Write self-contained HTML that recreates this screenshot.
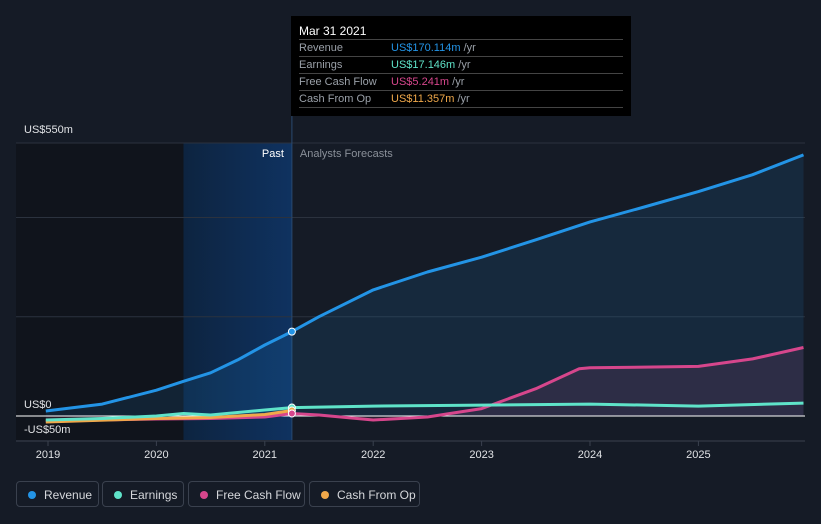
<!DOCTYPE html>
<html><head><meta charset="utf-8"><style>
body{margin:0;background:#151b26;font-family:"Liberation Sans",sans-serif;width:821px;height:524px;overflow:hidden;position:relative}
.lg{position:absolute;top:481px;height:26px;border:1px solid #3a414e;border-radius:4px;color:#d5d7db;font-size:12px;line-height:26px;box-sizing:border-box;padding-left:27px}
.lg i{position:absolute;left:11px;top:9px;width:8px;height:8px;border-radius:50%}
</style></head><body>
<svg id="c" width="821" height="524" style="position:absolute;left:0;top:0"></svg>
<div class="lg" style="left:16px;width:83px"><i style="background:#2394e6"></i>Revenue</div>
<div class="lg" style="left:102px;width:82px"><i style="background:#5fe3c9"></i>Earnings</div>
<div class="lg" style="left:188px;width:117px"><i style="background:#d6468c"></i>Free Cash Flow</div>
<div class="lg" style="left:309px;width:111px"><i style="background:#f0a84a"></i>Cash From Op</div>
<div style="position:absolute;left:291px;top:16px;width:340px;height:100px;background:#000">
<div style="position:absolute;left:8px;top:8px;color:#fff;font-size:12px">Mar 31 2021</div>
<div style="position:absolute;left:8px;right:8px;top:23px;font-size:11px;color:#9aa0a8;line-height:16px">
<div style="border-top:1px solid #444;position:relative">Revenue<span style="position:absolute;left:92px;color:#2394e6">US$170.114m <span style="color:#9aa0a8">/yr</span></span></div>
<div style="border-top:1px solid #444;position:relative">Earnings<span style="position:absolute;left:92px;color:#5fe3c9">US$17.146m <span style="color:#9aa0a8">/yr</span></span></div>
<div style="border-top:1px solid #444;position:relative">Free Cash Flow<span style="position:absolute;left:92px;color:#d6468c">US$5.241m <span style="color:#9aa0a8">/yr</span></span></div>
<div style="border-top:1px solid #444;border-bottom:1px solid #444;position:relative">Cash From Op<span style="position:absolute;left:92px;color:#f0a84a">US$11.357m <span style="color:#9aa0a8">/yr</span></span></div>
</div></div>
<script>
const revX=[2018.98,2019.5,2020,2020.25,2020.5,2020.75,2021,2021.25,2021.5,2022,2022.5,2023,2023.5,2024,2024.5,2025,2025.5,2025.97];
const revY=[10,24,52,70,87,113,143,170,200,254,290,320,355,391,421,452,486,526];
const earnX=[2018.98,2019.5,2020,2020.25,2020.5,2021,2021.25,2022,2023,2024,2025,2025.97];
const earnY=[-8,-5,0,5,2,12,17,20,22,24,20,26];
const fcfX=[2018.98,2020,2020.5,2021,2021.25,2021.5,2022,2022.5,2023,2023.5,2023.9,2024,2025,2025.5,2025.97];
const fcfY=[-10,-6,-5,-2,5,2,-8,-2,15,55,95,97,100,115,138];
const cfoX=[2018.98,2020,2020.5,2021,2021.25];
const cfoY=[-12,-5,-3,3,11];
const yTicks=[550,0,-50];const yLabels=["US$550m","US$0","-US$50m"];
const xTicks=[2019,2020,2021,2022,2023,2024,2025];
const X=v=>48+(v-2019)*108.4, Y=v=>416-v*0.4964;
const s=document.getElementById('c'),NS="http://www.w3.org/2000/svg";
function el(t,a,p){const e=document.createElementNS(NS,t);for(const k in a)e.setAttribute(k,a[k]);(p||s).appendChild(e);return e}
const xp=X(2021.25);
const b1=el('rect',{x:16,y:143,width:X(2020.25)-16,height:297,fill:'#10141c'});


const g=el('linearGradient',{id:'gb',x1:0,x2:1,y1:0,y2:0},el('defs',{}));
el('stop',{offset:0,'stop-color':'#0d2440'},g);el('stop',{offset:1,'stop-color':'#0f3260'},g);
const b2=el('rect',{x:X(2020.25),y:143,width:xp-X(2020.25),height:297,fill:'url(#gb)'});


[550,400,200].forEach(v=>{const l=el('line',{x1:16,x2:805,y1:Y(v),y2:Y(v),stroke:'#2b323e'});

});
el('line',{x1:xp,x2:xp,y1:16,y2:440,stroke:'#2a4a70'});
function path(xs,ys){return xs.map((x,i)=>(i?'L':'M')+X(x).toFixed(1)+','+Y(ys[i]).toFixed(1)).join('')}
const a1=el('path',{d:path(revX,revY)+`L${X(revX[revX.length-1])},${Y(0)}L${X(revX[0])},${Y(0)}Z`,fill:'rgba(35,148,230,0.12)'});


const a2=el('path',{d:path(fcfX,fcfY)+`L${X(fcfX[fcfX.length-1])},${Y(0)}L${X(fcfX[0])},${Y(0)}Z`,fill:'rgba(214,70,140,0.12)'});


el('line',{x1:16,x2:805,y1:Y(0),y2:Y(0),stroke:'#ffffff','stroke-width':1});
el('line',{x1:16,x2:805,y1:441,y2:441,stroke:'#3a414e'});
[[fcfX,fcfY,'#d6468c','fcf-line'],[cfoX,cfoY,'#f0a84a','cfo-line'],[earnX,earnY,'#5fe3c9','earnings-line'],[revX,revY,'#2394e6','revenue-line']].forEach(([xs,ys,c,n])=>{
const p=el('path',{d:path(xs,ys),fill:'none',stroke:c,'stroke-width':3,'stroke-linejoin':'round'});

});
[[170,'#2394e6'],[17,'#5fe3c9'],[11,'#f0a84a'],[5,'#d6468c']].forEach(([v,c])=>el('circle',{cx:xp,cy:Y(v),r:3.5,fill:c,stroke:'#fff','stroke-width':1}));
const yBase=[133,408,433];
yTicks.forEach((v,i)=>{const t=el('text',{x:24,y:yBase[i],fill:'#e0e2e5','font-size':11});t.textContent=yLabels[i];

});
xTicks.forEach(v=>{el('line',{x1:X(v),x2:X(v),y1:441,y2:446,stroke:'#3a414e'});const t=el('text',{x:X(v),y:458,fill:'#e0e2e5','font-size':11,'text-anchor':'middle'});t.textContent=v;

});
let t=el('text',{x:xp-8,y:157,fill:'#fff','font-size':11,'text-anchor':'end'});t.textContent='Past';
t=el('text',{x:xp+8,y:157,fill:'#8a9099','font-size':11});t.textContent='Analysts Forecasts';
</script>
</body></html>
